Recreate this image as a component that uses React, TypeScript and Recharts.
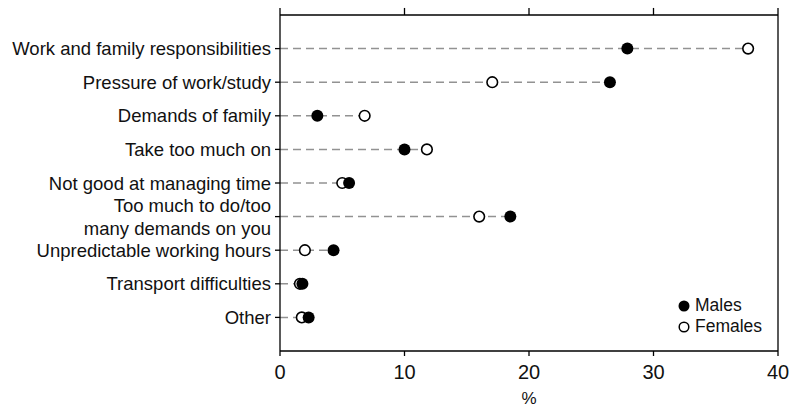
import React from 'react';
import {
  ScatterChart,
  Scatter,
  XAxis,
  YAxis,
  ReferenceLine,
} from 'recharts';

const reasons = [
  'Work and family responsibilities',
  'Pressure of work/study',
  'Demands of family',
  'Take too much on',
  'Not good at managing time',
  'Too much to do/too\nmany demands on you',
  'Unpredictable working hours',
  'Transport difficulties',
  'Other',
];

const males = [27.9, 26.5, 3.0, 10.0, 5.55, 18.5, 4.3, 1.8, 2.3];
const females = [37.6, 17.05, 6.8, 11.8, 5.0, 16.0, 2.0, 1.6, 1.75];

const xTicks = [0, 10, 20, 30, 40];
const rowTicks = reasons.map((_, i) => i + 1);

const FONT = '"Liberation Sans", Arial, sans-serif';

const maleData = males.map((v, i) => ({ x: v, y: i + 1 }));
const femaleData = females.map((v, i) => ({ x: v, y: i + 1 }));

function ReasonTick({ x, y, payload }: any) {
  const lines = reasons[payload.value - 1].split('\n');
  const lh = 23;
  const start = -((lines.length - 1) * lh) / 2;
  return (
    <text x={x} y={y} textAnchor="end" fill="#111" fontSize={18.5} fontFamily={FONT}>
      {lines.map((l, i) => (
        <tspan key={i} x={x} dy={i === 0 ? start + 6.5 : lh}>
          {l}
        </tspan>
      ))}
    </text>
  );
}

const FilledDot = (p: any) => <circle cx={p.cx} cy={p.cy} r={6} fill="#000" />;
const OpenDot = (p: any) => (
  <circle cx={p.cx} cy={p.cy} r={5.3} fill="#fff" stroke="#000" strokeWidth={1.6} />
);

function LegendBox() {
  const items = [
    { label: 'Males', filled: true },
    { label: 'Females', filled: false },
  ];
  return (
    <div
      style={{
        position: 'absolute',
        left: 677,
        top: 295,
        fontFamily: FONT,
        fontSize: 17.5,
        color: '#111',
      }}
    >
      {items.map((it) => (
        <div key={it.label} style={{ display: 'flex', alignItems: 'center', height: 21 }}>
          <svg width={14} height={14} style={{ marginRight: 4 }}>
            {it.filled ? (
              <circle cx={7} cy={7} r={5.5} fill="#000" />
            ) : (
              <circle cx={7} cy={7} r={4.8} fill="#fff" stroke="#000" strokeWidth={1.5} />
            )}
          </svg>
          <span>{it.label}</span>
        </div>
      ))}
    </div>
  );
}

export default function App() {
  return (
    <div style={{ position: 'absolute', left: 0, top: 0, width: 791, height: 409, background: '#fff' }}>
      <ScatterChart width={791} height={409} margin={{ top: 15, right: 13, bottom: 0, left: 0 }}>
        <XAxis
          type="number"
          dataKey="x"
          domain={[0, 40]}
          ticks={xTicks}
          interval={0}
          tickSize={5}
          tickMargin={9}
          height={58}
          stroke="#000"
          strokeWidth={1.3}
          tick={{ fill: '#111', fontSize: 20, fontFamily: FONT }}
          label={{ value: '%', position: 'insideBottom', offset: 5, fill: '#111', fontSize: 17, fontFamily: FONT }}
        />
        <YAxis
          type="number"
          dataKey="y"
          domain={[0, 10]}
          reversed
          ticks={rowTicks}
          interval={0}
          width={280}
          tickSize={5}
          tickMargin={4}
          stroke="#000"
          strokeWidth={1.3}
          tick={<ReasonTick />}
        />
        {/* frame: top and right edges, plus the small ticks above the top edge */}
        <ReferenceLine y={0} stroke="#000" strokeWidth={1.3} />
        <ReferenceLine x={40} stroke="#000" strokeWidth={1.3} />
        {xTicks.map((t) => (
          <ReferenceLine
            key={'top' + t}
            segment={[
              { x: t, y: 0 },
              { x: t, y: -0.21 },
            ]}
            ifOverflow="visible"
            stroke="#000"
            strokeWidth={1.3}
          />
        ))}
        {reasons.map((r, i) => (
          <ReferenceLine
            key={r}
            segment={[
              { x: 0, y: i + 1 },
              { x: Math.max(males[i], females[i]), y: i + 1 },
            ]}
            stroke="#929292"
            strokeWidth={1.5}
            strokeDasharray="8 5"
          />
        ))}
        <Scatter name="Females" data={femaleData} shape={OpenDot} isAnimationActive={false} />
        <Scatter name="Males" data={maleData} shape={FilledDot} isAnimationActive={false} />
      </ScatterChart>
      <LegendBox />
    </div>
  );
}
